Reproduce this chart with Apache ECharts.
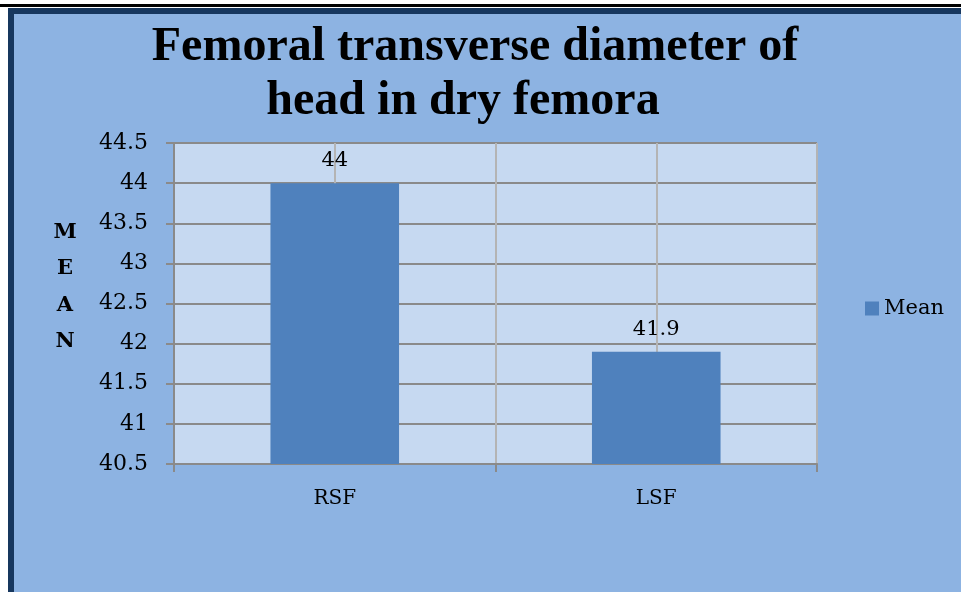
<!DOCTYPE html>
<html><head><meta charset="utf-8">
<script src="https://cdn.jsdelivr.net/npm/echarts@6/dist/echarts.min.js"></script>
<style>html,body{margin:0;padding:0;background:#fff}#c{width:961px;height:592px}</style>
</head><body><div id="c"></div>
<script>
const categories = ['RSF', 'LSF'];
const meanValues = [44, 41.9];
const seriesName = 'Mean';
const yMin = 40.5, yMax = 44.5, yStep = 0.5;

const chart = echarts.init(document.getElementById('c'));
chart.setOption({
  backgroundColor: '#ffffff',
  animation: false,
  graphic: [
    { type: 'rect', shape: { x: 0, y: 4, width: 961, height: 3 }, style: { fill: '#000' }, z: -10 },
    { type: 'rect', shape: { x: 8, y: 8, width: 953, height: 584 }, style: { fill: '#17375e' }, z: -10 },
    { type: 'rect', shape: { x: 14, y: 14, width: 947, height: 578 }, style: { fill: '#8db3e2' }, z: -9 }
  ],
  title: [
    { text: 'Femoral transverse diameter of', left: 470, top: 19, textAlign: 'center',
      textStyle: { fontFamily: 'Liberation Serif', fontWeight: 'bold', fontSize: 48, color: '#000' } },
    { text: 'head in dry femora', left: 458, top: 73, textAlign: 'center',
      textStyle: { fontFamily: 'Liberation Serif', fontWeight: 'bold', fontSize: 48, color: '#000' } },
    { text: 'M\nE\nA\nN', left: 60, top: 209, textAlign: 'center',
      textStyle: { fontFamily: 'DejaVu Serif', fontWeight: 'bold', fontSize: 21, lineHeight: 36.5, color: '#000' } }
  ],
  legend: {
    data: [seriesName], left: 860, top: 293, itemWidth: 14, itemHeight: 14, itemGap: 6,
    icon: 'rect',
    textStyle: { fontFamily: 'DejaVu Serif', fontSize: 21, color: '#000' }
  },
  grid: { left: 174, top: 143, right: 961 - 817, bottom: 592 - 464, containLabel: false,
    show: true, backgroundColor: '#c6d9f1', borderWidth: 0 },
  xAxis: [{
    type: 'category', data: categories,
    axisLine: { lineStyle: { color: '#8a8a8a', width: 2 } },
    axisTick: { show: true, length: 8, lineStyle: { color: '#8a8a8a', width: 2 } },
    splitLine: { show: false },
    axisLabel: { margin: 25, fontFamily: 'DejaVu Serif', fontSize: 20, color: '#000' }
  }, {
    type: 'value', min: 0, max: 2, interval: 0.5, position: 'bottom',
    axisLine: { show: false }, axisTick: { show: false }, axisLabel: { show: false },
    splitLine: { show: true, lineStyle: { color: '#b4b4b4', width: 2 } }
  }],
  yAxis: {
    type: 'value', min: yMin, max: yMax, interval: yStep,
    axisLine: { show: true, lineStyle: { color: '#8a8a8a', width: 2 } },
    axisTick: { show: true, length: 8, lineStyle: { color: '#8a8a8a', width: 2 } },
    splitLine: { show: true, lineStyle: { color: '#8a8a8a', width: 2 } },
    axisLabel: { margin: 26, fontFamily: 'DejaVu Serif', fontSize: 22, color: '#000' }
  },
  series: [{
    name: seriesName, type: 'bar', data: meanValues, barWidth: '40%', xAxisIndex: 0,
    itemStyle: { color: '#4f81bd' },
    label: { show: true, position: 'top', distance: 12, fontFamily: 'DejaVu Serif', fontSize: 21, color: '#000' }
  }]
});
</script></body></html>
